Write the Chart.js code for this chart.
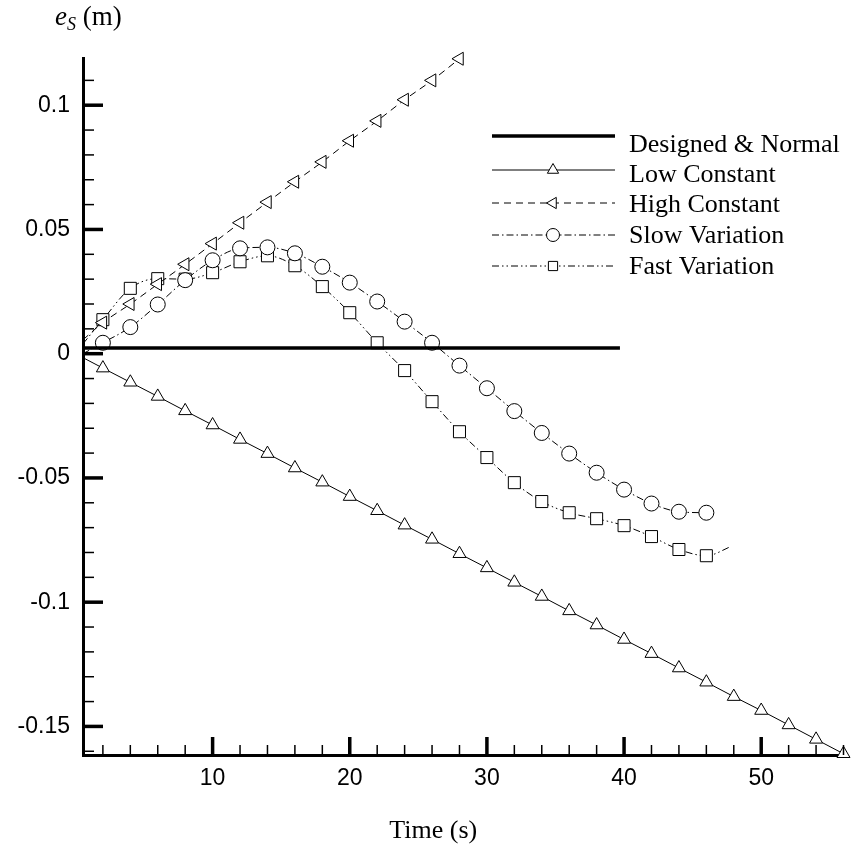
<!DOCTYPE html>
<html>
<head>
<meta charset="utf-8">
<script src="https://cdn.jsdelivr.net/npm/chart.js@4.4.1/dist/chart.umd.min.js"></script>
<style>
  html, body { margin: 0; padding: 0; background: #fff; }
  #wrap { width: 852px; height: 850px; position: relative; }
</style>
</head>
<body>
<div id="wrap"><canvas id="chart"></canvas></div>
<script>
// ==========================================
// 1. DATA
// ==========================================
const designTime = [0.55, 39.7];
const designVals = [0.0023, 0.0023];

const lowTime = [0.55, 2, 4, 6, 8, 10, 12, 14, 16, 18, 20, 22, 24, 26, 28, 30, 32, 34, 36, 38, 40, 42, 44, 46, 48, 50, 52, 54, 56];
const lowVals = [-0.0016, -0.0058, -0.0115, -0.0172, -0.0230, -0.0287, -0.0345, -0.0402, -0.0460, -0.0517, -0.0575, -0.0632, -0.0690, -0.0747, -0.0805, -0.0862, -0.0920, -0.0977, -0.1035, -0.1092, -0.1150, -0.1207, -0.1265, -0.1322, -0.1380, -0.1436, -0.1494, -0.1552, -0.1610];

const highTime = [0.55, 2, 4, 6, 8, 10, 12, 14, 16, 18, 20, 22, 24, 26, 28];
const highVals = [0.0056, 0.0125, 0.0200, 0.0280, 0.0360, 0.0443, 0.0527, 0.0610, 0.0692, 0.0772, 0.0857, 0.0937, 0.1022, 0.1100, 0.1187];

const slowTime = [0.55, 2, 4, 6, 8, 10, 12, 14, 16, 18, 20, 22, 24, 26, 28, 30, 32, 34, 36, 38, 40, 42, 44, 46];
const slowVals = [0.0000, 0.0044, 0.0107, 0.0198, 0.0296, 0.0376, 0.0424, 0.0428, 0.0404, 0.0350, 0.0286, 0.0210, 0.0129, 0.0044, -0.0048, -0.0139, -0.0231, -0.0319, -0.0402, -0.0479, -0.0547, -0.0603, -0.0636, -0.0640];

const fastTime = [0.55, 2, 4, 6, 8, 10, 12, 14, 16, 18, 20, 22, 24, 26, 28, 30, 32, 34, 36, 38, 40, 42, 44, 46, 47.8];
const fastVals = [0.0040, 0.0137, 0.0263, 0.0302, 0.0300, 0.0326, 0.0370, 0.0394, 0.0354, 0.0270, 0.0165, 0.0044, -0.0068, -0.0193, -0.0314, -0.0418, -0.0519, -0.0595, -0.0640, -0.0664, -0.0692, -0.0736, -0.0788, -0.0813, -0.0776];

const seriesLabels = ['Designed & Normal', 'Low Constant', 'High Constant', 'Slow Variation', 'Fast Variation'];

const yMajorTicks = [-0.15, -0.1, -0.05, 0, 0.05, 0.1];
const xMajorTicks = [10, 20, 30, 40, 50];

// ==========================================
// 2. HELPERS
// ==========================================
const toPoints = (t, v) => t.map((x, i) => ({ x: x, y: v[i] }));
// markers only sit on the even whole seconds
const markerRadius = (times, r) => c => Number.isInteger(times[c.dataIndex]) ? r : 0;

function drawMarker(ctx, style, rot, x, y, r) {
  ctx.save();
  ctx.translate(x, y);
  ctx.rotate(rot * Math.PI / 180);
  ctx.beginPath();
  if (style === 'circle') {
    ctx.arc(0, 0, r, 0, Math.PI * 2);
  } else if (style === 'rect') {
    const s = r * Math.SQRT1_2;
    ctx.rect(-s, -s, 2 * s, 2 * s);
  } else if (style === 'triangle') {
    ctx.moveTo(0, -r);
    ctx.lineTo(r * Math.sin(Math.PI / 3), r * 0.5);
    ctx.lineTo(-r * Math.sin(Math.PI / 3), r * 0.5);
    ctx.closePath();
  }
  ctx.fillStyle = '#fff';
  ctx.fill();
  ctx.lineWidth = 1;
  ctx.strokeStyle = '#000';
  ctx.stroke();
  ctx.restore();
}

// ==========================================
// 3. PLUGINS: inward ticks, titles, legend
// ==========================================
const tickPlugin = {
  id: 'inwardTicks',
  afterDraw(chart) {
    const ctx = chart.ctx;
    const xs = chart.scales.x, ys = chart.scales.y;
    const area = chart.chartArea;
    ctx.save();
    ctx.strokeStyle = '#000';
    for (let v = -16; v <= 11; v++) {
      const major = v % 5 === 0;
      const py = ys.getPixelForValue(v / 100);
      ctx.lineWidth = major ? 3.5 : 1.5;
      ctx.beginPath();
      ctx.moveTo(area.left, py);
      ctx.lineTo(area.left + (major ? 20 : 11), py);
      ctx.stroke();
    }
    for (let t = 2; t <= 56; t += 2) {
      const major = t % 10 === 0;
      const px = xs.getPixelForValue(t);
      ctx.lineWidth = major ? 3.5 : 1.5;
      ctx.beginPath();
      ctx.moveTo(px, area.bottom);
      ctx.lineTo(px, area.bottom - (major ? 18 : 10));
      ctx.stroke();
    }

    // axis titles
    ctx.fillStyle = '#000';
    ctx.textBaseline = 'alphabetic';
    ctx.font = '26px "Liberation Serif"';
    ctx.textAlign = 'center';
    ctx.fillText('Time (s)', (area.left + area.right) / 2 - 30, 838);

    ctx.textAlign = 'left';
    let x = 55;
    ctx.font = 'italic 27px "Liberation Serif"';
    ctx.fillText('e', x, 25);
    x += ctx.measureText('e').width;
    ctx.font = 'italic 18px "Liberation Serif"';
    ctx.fillText('S', x, 30);
    x += ctx.measureText('S').width;
    ctx.font = '27px "Liberation Serif"';
    ctx.fillText(' (m)', x, 25);
    ctx.restore();
  }
};

const legendPlugin = {
  id: 'plotLegend',
  afterDraw(chart) {
    const ctx = chart.ctx;
    const lineY = [136, 170, 203, 235, 266];
    const textY = [152, 182, 212, 243, 274];
    chart.data.datasets.forEach((ds, i) => {
      ctx.save();
      ctx.strokeStyle = '#000';
      ctx.lineWidth = ds.borderWidth;
      ctx.setLineDash(ds.borderDash || []);
      ctx.beginPath();
      ctx.moveTo(492, lineY[i]);
      ctx.lineTo(615, lineY[i]);
      ctx.stroke();
      ctx.setLineDash([]);
      if (ds.markerStyle) drawMarker(ctx, ds.markerStyle, ds.pointRotation || 0, 553, lineY[i], 6.5);
      ctx.fillStyle = '#000';
      ctx.font = '26px "Liberation Serif"';
      ctx.textAlign = 'left';
      ctx.textBaseline = 'alphabetic';
      ctx.fillText(ds.label, 629, textY[i]);
      ctx.restore();
    });
  }
};

// ==========================================
// 4. CHART
// ==========================================
const lineBase = {
  showLine: true,
  borderColor: '#000',
  pointBackgroundColor: '#fff',
  pointBorderColor: '#000',
  pointBorderWidth: 1,
  pointHoverRadius: 0,
  cubicInterpolationMode: 'monotone',
  clip: false
};

const ctx = document.getElementById('chart').getContext('2d');
const chart = new Chart(ctx, {
  type: 'scatter',
  data: {
    datasets: [
      Object.assign({}, lineBase, {
        label: seriesLabels[0],
        data: toPoints(designTime, designVals),
        borderWidth: 3.5,
        pointRadius: 0
      }),
      Object.assign({}, lineBase, {
        label: seriesLabels[1],
        data: toPoints(lowTime, lowVals),
        borderWidth: 1,
        pointStyle: 'triangle',
        markerStyle: 'triangle',
        pointRadius: markerRadius(lowTime, 7.5)
      }),
      Object.assign({}, lineBase, {
        label: seriesLabels[2],
        data: toPoints(highTime, highVals),
        borderWidth: 1,
        borderDash: [7, 5],
        pointStyle: 'triangle',
        markerStyle: 'triangle',
        pointRotation: -90,
        rotation: -90,
        pointRadius: markerRadius(highTime, 7.5)
      }),
      Object.assign({}, lineBase, {
        label: seriesLabels[3],
        data: toPoints(slowTime, slowVals),
        borderWidth: 1,
        borderDash: [7, 3, 1.5, 3],
        pointStyle: 'circle',
        markerStyle: 'circle',
        pointRadius: markerRadius(slowTime, 7.5)
      }),
      Object.assign({}, lineBase, {
        label: seriesLabels[4],
        data: toPoints(fastTime, fastVals),
        borderWidth: 1,
        borderDash: [7, 3, 1.5, 3, 1.5, 3],
        pointStyle: 'rect',
        markerStyle: 'rect',
        pointRadius: markerRadius(fastTime, 8.5)
      })
    ]
  },
  options: {
    responsive: true,
    maintainAspectRatio: false,
    animation: false,
    events: [],
    layout: { padding: { top: 58, right: 6, left: 0, bottom: 0 } },
    plugins: { legend: { display: false }, tooltip: { enabled: false } },
    scales: {
      x: {
        type: 'linear',
        min: 0.55,
        max: 56,
        afterFit: s => { s.height = 95; },
        afterBuildTicks: s => { s.ticks = xMajorTicks.map(v => ({ value: v })); },
        grid: { display: false, drawTicks: false },
        border: { display: true, width: 3, color: '#000' },
        ticks: {
          autoSkip: false,
          maxRotation: 0,
          padding: 10,
          color: '#000',
          font: { family: '"Liberation Sans"', size: 23 },
          callback: v => String(v)
        }
      },
      y: {
        type: 'linear',
        min: -0.1615,
        max: 0.119,
        afterFit: s => { s.width = 83; },
        afterBuildTicks: s => { s.ticks = yMajorTicks.map(v => ({ value: v })); },
        grid: { display: false, drawTicks: false },
        border: { display: true, width: 3, color: '#000' },
        ticks: {
          autoSkip: false,
          padding: 13,
          color: '#000',
          font: { family: '"Liberation Sans"', size: 23 },
          callback: v => String(Math.round(v * 100) / 100)
        }
      }
    }
  },
  plugins: [tickPlugin, legendPlugin]
});
</script>
</body>
</html>
